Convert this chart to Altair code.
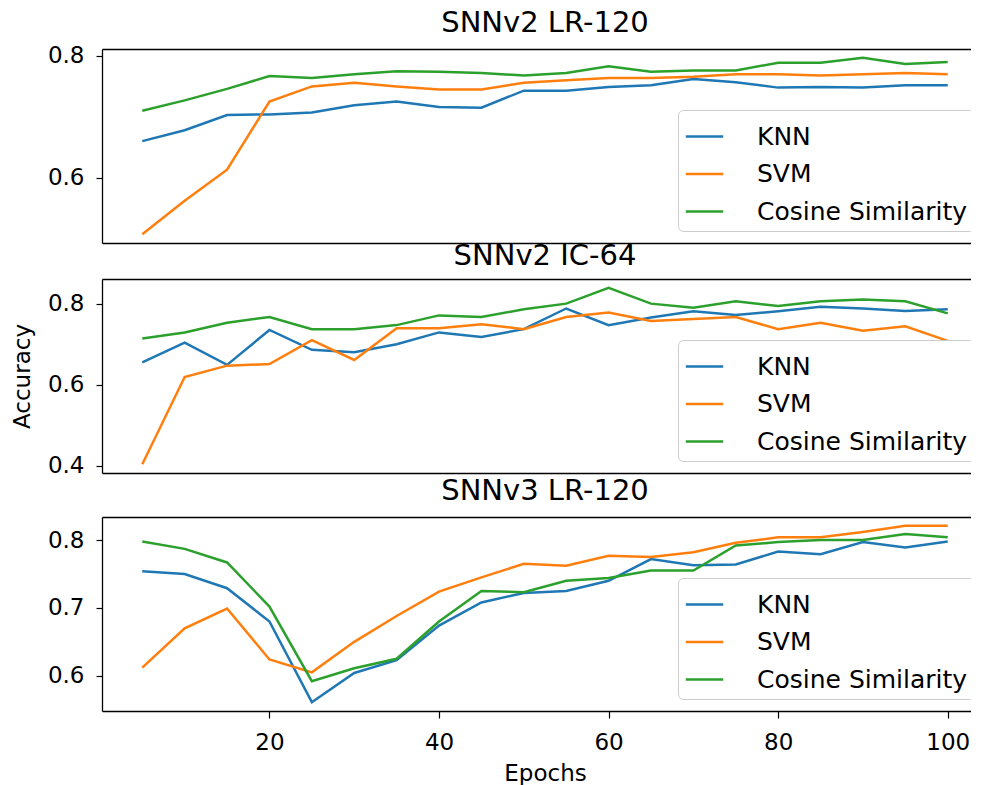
import altair as alt
import pandas as pd

epochs = [5, 10, 15, 20, 25, 30, 35, 40, 45, 50, 55, 60, 65, 70, 75, 80, 85, 90, 95, 100]
series_names = ["KNN", "SVM", "Cosine Similarity"]
colors = ["#1f77b4", "#ff7f0e", "#2ca02c"]
titles = ["SNNv2 LR-120", "SNNv2 IC-64", "SNNv3 LR-120"]
title_offsets = [7, 8, 11]
y_ticks = [[0.6, 0.8], [0.4, 0.6, 0.8], [0.6, 0.7, 0.8]]
x_ticks = [20, 40, 60, 80, 100]

p1_knn = [0.660, 0.678, 0.703, 0.704, 0.707, 0.719, 0.725, 0.716, 0.715, 0.743,
          0.743, 0.749, 0.752, 0.762, 0.757, 0.748, 0.749, 0.748, 0.752, 0.752]
p1_svm = [0.507, 0.562, 0.613, 0.725, 0.750, 0.756, 0.750, 0.745, 0.745, 0.756,
          0.760, 0.764, 0.764, 0.766, 0.770, 0.770, 0.768, 0.770, 0.772, 0.770]
p1_cos = [0.710, 0.727, 0.746, 0.767, 0.764, 0.770, 0.775, 0.774, 0.772, 0.768,
          0.772, 0.783, 0.774, 0.776, 0.776, 0.789, 0.789, 0.797, 0.787, 0.790]

p2_knn = [0.655, 0.704, 0.649, 0.735, 0.686, 0.680, 0.700, 0.729, 0.718, 0.737,
          0.788, 0.747, 0.766, 0.781, 0.772, 0.781, 0.792, 0.788, 0.782, 0.786]
p2_svm = [0.404, 0.619, 0.647, 0.651, 0.710, 0.661, 0.739, 0.739, 0.749, 0.737,
          0.767, 0.778, 0.757, 0.762, 0.767, 0.737, 0.753, 0.733, 0.744, 0.708]
p2_cos = [0.714, 0.729, 0.753, 0.767, 0.737, 0.737, 0.747, 0.771, 0.767, 0.786,
          0.800, 0.839, 0.800, 0.790, 0.806, 0.794, 0.806, 0.810, 0.806, 0.776]

p3_knn = [0.754, 0.750, 0.729, 0.680, 0.561, 0.604, 0.623, 0.674, 0.708, 0.722,
          0.725, 0.740, 0.772, 0.763, 0.764, 0.783, 0.779, 0.797, 0.789, 0.798]
p3_svm = [0.612, 0.670, 0.699, 0.624, 0.605, 0.650, 0.688, 0.724, 0.745, 0.765,
          0.762, 0.777, 0.775, 0.782, 0.796, 0.804, 0.804, 0.812, 0.821, 0.821]
p3_cos = [0.798, 0.787, 0.767, 0.702, 0.592, 0.611, 0.625, 0.680, 0.725, 0.723,
          0.740, 0.744, 0.755, 0.755, 0.792, 0.797, 0.800, 0.800, 0.809, 0.804]

panels = [(p1_knn, p1_svm, p1_cos), (p2_knn, p2_svm, p2_cos), (p3_knn, p3_svm, p3_cos)]

FONT = "DejaVu Sans"
W, H = 886, 194


def pad_domain(vals):
    lo, hi = min(vals), max(vals)
    m = 0.05 * (hi - lo)
    return [lo - m, hi + m]


x_dom = pad_domain(epochs)
x_scale = alt.Scale(domain=x_dom, nice=False, zero=False)


def make_panel(i):
    knn, svm, cos = panels[i]
    df = pd.DataFrame({
        "Epoch": epochs * 3,
        "Accuracy": knn + svm + cos,
        "Method": [n for n in series_names for _ in epochs],
    })
    if i == 2:
        xaxis = alt.Axis(values=x_ticks, title="Epochs", labelPadding=13, titlePadding=8,
                         tickSize=7, domain=True, grid=False)
    else:
        xaxis = alt.Axis(values=x_ticks, title=None, labels=False, ticks=False,
                         domain=True, grid=False)
    if i == 1:
        yaxis = alt.Axis(values=y_ticks[i], format=".1f", title="Accuracy", titlePadding=13,
                         labelPadding=12, tickSize=6, domain=True, grid=False)
    else:
        yaxis = alt.Axis(values=y_ticks[i], format=".1f", title=None,
                         labelPadding=12, tickSize=6, domain=True, grid=False)
    y = alt.Y("Accuracy:Q", scale=alt.Scale(domain=pad_domain(knn + svm + cos), nice=False, zero=False),
              axis=yaxis)
    legend = alt.Legend(orient="none", legendX=576, legendY=61, title=None,
                        symbolType="stroke", symbolSize=1400, symbolStrokeWidth=2.6,
                        labelFontSize=25, labelFont=FONT, labelColor="black", labelLimit=500,
                        strokeColor="#cccccc", fillColor="white", cornerRadius=5,
                        padding=6, rowPadding=3.5, labelOffset=32)
    color = alt.Color("Method:N", scale=alt.Scale(domain=series_names, range=colors),
                      sort=series_names, legend=legend)
    lines = alt.Chart(df).mark_line(strokeWidth=2.5).encode(
        x=alt.X("Epoch:Q", scale=x_scale, axis=xaxis), y=y, color=color)
    top_edge = alt.Chart(df).mark_line(opacity=0).encode(
        x=alt.X("Epoch:Q", scale=x_scale,
                axis=alt.Axis(orient="top", title=None, labels=False, ticks=False,
                              domain=True, grid=False)),
        y=y,
        detail="Method:N")
    return alt.layer(lines, top_edge, title=alt.Title(
        titles[i], fontSize=29, font=FONT, fontWeight="normal", color="black",
        anchor="middle", offset=title_offsets[i])).resolve_axis(x="independent").properties(
        width=W, height=H)


chart = alt.vconcat(make_panel(0), make_panel(1), make_panel(2), spacing=-1).resolve_legend(
    color="independent"
).properties(
    padding={"left": 3, "top": 0, "right": -17, "bottom": 0}
).configure_view(
    stroke=None
).configure_axis(
    labelFont=FONT, labelFontSize=23, labelColor="black", titleFont=FONT, titleFontSize=23,
    titleFontWeight="normal", titleColor="black", tickColor="black", tickWidth=1.2,
    domainColor="black", domainWidth=1.3
)

chart.save("out.html", embed_options={"renderer": "svg", "actions": False})
